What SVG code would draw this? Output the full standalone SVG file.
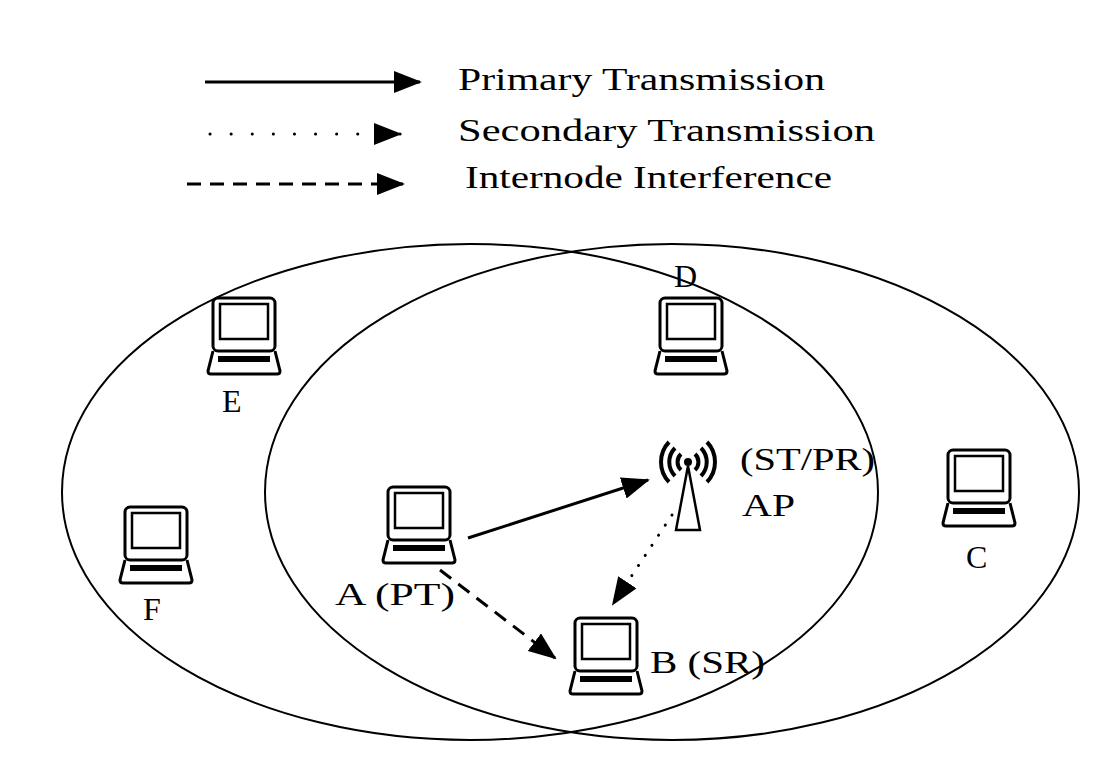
<svg xmlns="http://www.w3.org/2000/svg" width="1116" height="776" viewBox="0 0 1116 776">
<style>
text{font-family:"Liberation Serif",serif;font-size:32px;fill:#000}
.l{fill:none;stroke:#000;stroke-width:3}
</style>
<defs>
<marker id="ah" markerWidth="28" markerHeight="22" refX="26" refY="11" orient="auto" markerUnits="userSpaceOnUse"><path d="M0,0L28,11L0,22z"/></marker>
<g id="lap" fill="none" stroke="#000">
<rect x="0" y="0" width="62" height="53" rx="5" stroke-width="3"/>
<rect x="7" y="6" width="48" height="35" stroke-width="2.5"/>
<path d="M0,53L-5,73Q-5,76 -2,76L64,76Q67,76 67,73L62,53" stroke-width="3"/>
<rect x="5" y="58" width="52" height="6" fill="#000" stroke="none"/>
</g>
</defs>
<rect width="1116" height="776" fill="#fff"/>
<g id="legend">
<line x1="205" y1="82" x2="420" y2="82" class="l" marker-end="url(#ah)" stroke-width="2.5"/>
<text x="458" y="90" textLength="367" lengthAdjust="spacingAndGlyphs">Primary Transmission</text>
<line x1="210" y1="134" x2="400" y2="134" class="l" stroke-width="6" stroke-dasharray="0.1,21" stroke-linecap="round" marker-end="url(#ah)"/>
<text x="458" y="141" textLength="417" lengthAdjust="spacingAndGlyphs">Secondary  Transmission</text>
<line x1="187" y1="184" x2="403" y2="184" class="l" stroke-dasharray="14,9" marker-end="url(#ah)"/>
<text x="465" y="188" textLength="367" lengthAdjust="spacingAndGlyphs">Internode Interference</text>
</g>
<g id="ranges" fill="none" stroke="#000" stroke-width="2">
<ellipse cx="470" cy="492" rx="408" ry="248"/>
<ellipse cx="672" cy="492" rx="407" ry="248"/>
</g>
<g id="E"><use href="#lap" x="213" y="298"/><text x="222" y="412">E</text></g>
<g id="D"><use href="#lap" x="660" y="298"/><text x="674" y="287">D</text></g>
<g id="F"><use href="#lap" x="125" y="507"/><text x="143" y="620">F</text></g>
<g id="C"><use href="#lap" x="948" y="450"/><text x="966" y="568">C</text></g>
<g id="A"><use href="#lap" x="388" y="487"/><text x="335" y="605" textLength="120" lengthAdjust="spacingAndGlyphs">A (PT)</text></g>
<g id="B"><use href="#lap" x="575" y="618"/><text x="650" y="673" textLength="115" lengthAdjust="spacingAndGlyphs">B (SR)</text></g>
<g id="AP" fill="none" stroke="#000" stroke-width="4">
<circle cx="688" cy="462" r="4" fill="#000" stroke="none"/>
<path d="M681,454A11,11 0 0 0 681,470M695,454A11,11 0 0 1 695,470"/>
<path d="M675,448A20,20 0 0 0 675,476M701,448A20,20 0 0 1 701,476"/>
<path d="M669,442A29,29 0 0 0 669,482M707,442A29,29 0 0 1 707,482"/>
<path d="M688,466L676,530L700,530Z" stroke-width="2.5"/>
<text x="740" y="470" stroke="none" fill="#000" textLength="135" lengthAdjust="spacingAndGlyphs">(ST/PR)</text>
<text x="742" y="516" stroke="none" fill="#000" textLength="53" lengthAdjust="spacingAndGlyphs">AP</text>
</g>
<g id="connectors">
<line x1="468" y1="538" x2="648" y2="480" class="l" marker-end="url(#ah)" stroke-width="2.5"/>
<line x1="672" y1="515" x2="613" y2="604" class="l" stroke-width="6" stroke-dasharray="0.1,12" stroke-linecap="round" marker-end="url(#ah)"/>
<line x1="440" y1="570" x2="555" y2="658" class="l" stroke-dasharray="14,9" marker-end="url(#ah)"/>
</g>
</svg>
